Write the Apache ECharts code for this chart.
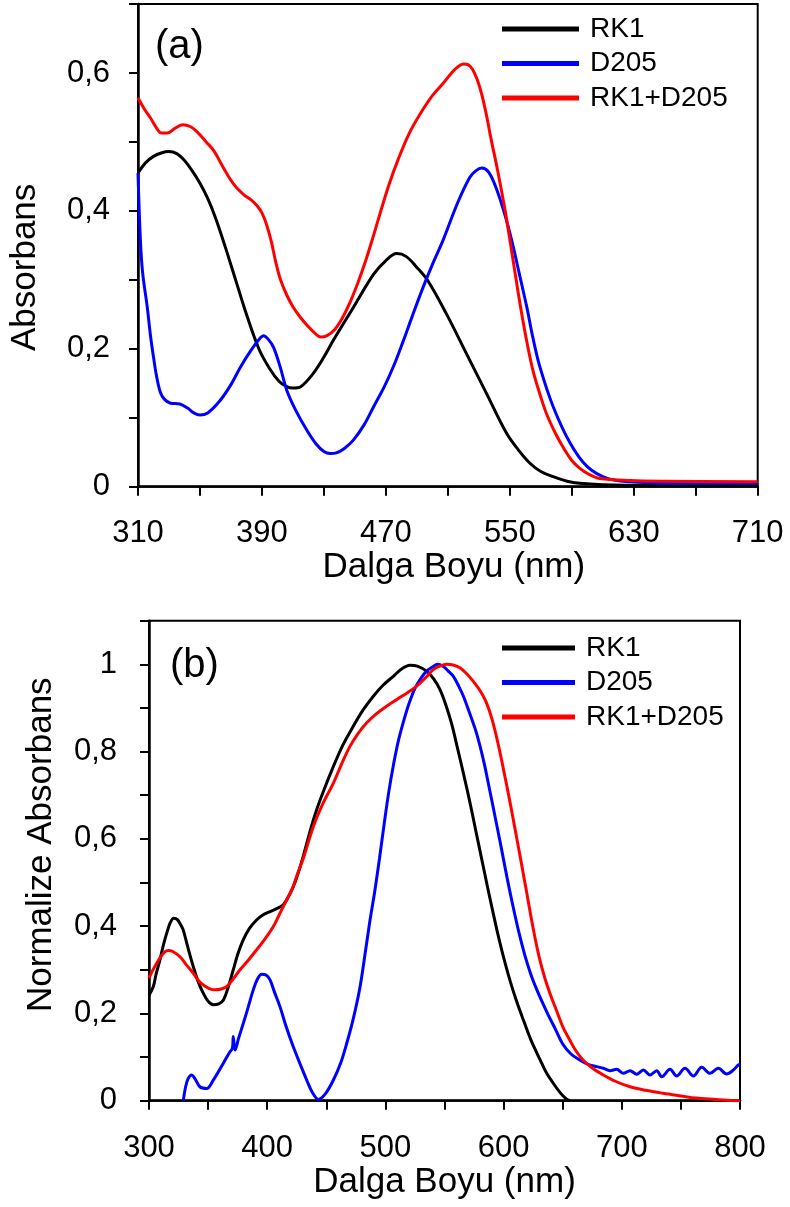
<!DOCTYPE html>
<html>
<head>
<meta charset="utf-8">
<script src="https://cdn.jsdelivr.net/npm/echarts@6/dist/echarts.min.js"></script>
<style>
html,body{margin:0;padding:0;background:#fff;}
#chart{width:790px;height:1207px;}
</style>
</head>
<body>
<div id="chart"></div>
<script>
// ---------- Data (wavelength nm, value) ----------
const seriesNames = ['RK1', 'D205', 'RK1+D205'];

// Panel (a): absorbance
const rk1A = [[310,0.455],[315,0.470],[320,0.479],[325,0.484],[330,0.486],[335,0.483],[340,0.473],[345,0.458],[350,0.440],[355,0.418],[360,0.390],[366,0.350],[373,0.300],[380,0.250],[388,0.200],[395,0.171],[401,0.153],[406,0.145],[410,0.143],[415,0.145],[423,0.164],[430,0.188],[436,0.212],[449,0.260],[462,0.308],[470,0.328],[477,0.338],[483,0.334],[490,0.318],[497,0.299],[509,0.251],[522,0.193],[535,0.135],[548,0.077],[556,0.052],[563,0.034],[570,0.022],[578,0.0145],[587,0.008],[595,0.005],[610,0.003],[640,0.002],[710,0.002]];
const d205A = [[310,0.455],[311.5,0.36],[313,0.31],[316,0.26],[318,0.22],[320,0.188],[322,0.16],[324.4,0.137],[327,0.127],[331,0.121],[337,0.120],[342,0.114],[346,0.107],[350,0.104],[355,0.107],[363,0.125],[370,0.148],[376,0.173],[383,0.198],[389,0.216],[391,0.219],[394,0.214],[397.5,0.202],[402,0.172],[406,0.14],[412,0.11],[419,0.082],[425,0.062],[430,0.051],[434,0.048],[438,0.049],[443,0.055],[449,0.0675],[456,0.09],[462,0.1156],[469,0.145],[475,0.175],[481,0.21],[487,0.247],[494,0.289],[500,0.322],[507,0.358],[516,0.41],[524,0.448],[528,0.458],[532,0.462],[536,0.457],[540,0.44],[544,0.415],[548,0.385],[552,0.35],[556,0.31],[561,0.26],[565,0.215],[569.5,0.173],[578,0.116],[589,0.063],[600,0.029],[613,0.012],[628,0.007],[650,0.005],[710,0.005]];
const mixA = [[310,0.564],[314,0.548],[318,0.535],[322,0.52],[325,0.513],[329,0.513],[334,0.52],[339,0.525],[344,0.522],[348,0.515],[354,0.50],[359,0.487],[365,0.463],[372,0.438],[378,0.424],[383,0.416],[387,0.407],[390,0.397],[393,0.38],[396,0.356],[399,0.325],[402,0.300],[406,0.278],[410,0.261],[415,0.245],[420,0.232],[424,0.223],[428,0.217],[432,0.219],[437,0.228],[442,0.245],[447,0.268],[452,0.296],[457,0.328],[462,0.364],[467,0.402],[472,0.438],[478,0.475],[485,0.512],[492,0.54],[500,0.567],[507,0.585],[512,0.599],[516,0.608],[520,0.613],[523,0.612],[526,0.605],[529,0.59],[532,0.568],[535,0.538],[538,0.503],[542,0.46],[547,0.40],[552,0.33],[556.6,0.265],[561,0.21],[565,0.168],[570,0.13],[574,0.104],[580,0.075],[585,0.055],[590,0.038],[595,0.027],[601,0.018],[608,0.012],[628,0.009],[650,0.008],[710,0.007]];

// Panel (b): normalized absorbance
const rk1B = [[300,0.242],[303.6,0.261],[306,0.29],[309.3,0.323],[312,0.355],[315,0.384],[318,0.408],[321,0.418],[324,0.415],[327,0.402],[329,0.391],[333,0.35],[337.5,0.307],[342,0.27],[346,0.246],[350,0.228],[354.4,0.22],[359,0.222],[363,0.231],[367,0.26],[371.3,0.30],[375,0.335],[379.8,0.369],[385,0.395],[391,0.414],[396,0.425],[402.4,0.4335],[408,0.44],[413.6,0.449],[418,0.468],[422,0.49],[426,0.52],[431,0.565],[436,0.615],[441,0.66],[447,0.705],[456,0.766],[464,0.815],[472.8,0.858],[481,0.895],[489.8,0.927],[498,0.952],[506.7,0.9725],[514,0.99],[520.8,0.998],[527,0.996],[535,0.984],[541,0.966],[546,0.943],[551,0.908],[556,0.864],[561,0.808],[566,0.75],[571,0.69],[576,0.625],[581,0.56],[586,0.495],[591,0.432],[596,0.372],[601,0.318],[606,0.27],[611,0.228],[617,0.183],[623,0.14],[631,0.093],[636,0.065],[642,0.04],[648,0.018],[653,0.004],[656,0]];
const d205B = [[329,0],[331,0.032],[333,0.05],[336,0.059],[339,0.05],[343,0.032],[348.8,0.028],[354.4,0.047],[362.9,0.086],[368,0.11],[370.5,0.12],[371.3,0.147],[372.8,0.116],[376,0.145],[379.8,0.1775],[384,0.215],[388.2,0.254],[392,0.28],[395.3,0.29],[399,0.288],[402.4,0.277],[406,0.25],[410.8,0.2156],[416,0.17],[422,0.124],[428,0.083],[433.4,0.0475],[438,0.02],[443.2,0.003],[449,0.015],[456,0.0475],[462,0.085],[467.3,0.1316],[473,0.19],[478.5,0.26],[483,0.34],[487,0.414],[491,0.48],[495,0.555],[499,0.635],[503,0.71],[507,0.772],[511,0.825],[515,0.866],[520,0.91],[525,0.945],[530,0.968],[535,0.985],[540.5,0.995],[544,1.0],[549,0.995],[553,0.985],[557.5,0.9725],[562,0.95],[566,0.927],[571,0.89],[577,0.843],[583,0.78],[588,0.715],[593,0.648],[598,0.58],[603,0.51],[608,0.445],[613,0.385],[618,0.333],[623,0.29],[628,0.255],[633,0.224],[638,0.195],[644,0.163],[650,0.13],[657,0.107],[664,0.094],[671,0.084],[678.8,0.078],[684.4,0.0743],[690,0.0689],[695.7,0.072],[701.3,0.0628],[707,0.0689],[712.6,0.0605],[718.2,0.0704],[723.9,0.059],[729.5,0.0689],[733.8,0.055],[740.8,0.072],[746.4,0.0567],[753.5,0.0743],[760.5,0.0567],[767.6,0.0766],[774.6,0.0628],[781.6,0.0743],[788.7,0.0613],[794.3,0.07],[798.6,0.082],[800,0.083]];
const mixB = [[300,0.281],[303,0.298],[306.5,0.315],[310,0.33],[313,0.34],[316.3,0.344],[320,0.342],[326.2,0.330],[332,0.31],[337.5,0.292],[342,0.275],[346,0.265],[351,0.257],[355.8,0.254],[361,0.256],[365.7,0.2615],[371,0.278],[377,0.30],[384,0.322],[391,0.3456],[398,0.37],[405.2,0.399],[410,0.425],[413.6,0.445],[418,0.468],[422,0.491],[425,0.515],[430.5,0.555],[439,0.628],[447,0.68],[456,0.728],[463,0.772],[470,0.812],[477,0.842],[484.2,0.866],[492,0.886],[501,0.904],[510,0.92],[518,0.934],[524,0.945],[529.3,0.957],[535,0.972],[540.5,0.988],[546,0.996],[552,1.0],[558,0.998],[563,0.992],[569,0.978],[574.4,0.961],[580,0.94],[585,0.915],[590,0.876],[595,0.822],[600,0.758],[605,0.69],[610,0.618],[615,0.545],[620,0.47],[625,0.395],[630,0.33],[635,0.28],[640,0.24],[645,0.205],[650,0.17],[656,0.139],[661,0.115],[667,0.094],[675,0.075],[684.4,0.059],[695,0.044],[707,0.032],[720,0.024],[735,0.017],[750,0.011],[763,0.006],[780,0.003],[797,0],[800,0]];

const colors = ['#000000', '#0000ff', '#ff0000'];

// ---------- Chart ----------
const FONT = 'Liberation Sans, Arial, sans-serif';
const chart = echarts.init(document.getElementById('chart'), null, {renderer: 'canvas'});

function yFmt(v) {
  const k = Math.round(v * 10);
  if (k % 2 !== 0) return '';
  if (k === 0) return '0';
  if (k === 10) return '1';
  return '0,' + k;
}
function axisCommon() {
  return {
    axisLine: {show: true, onZero: false, lineStyle: {color: '#000', width: 2.5}},
    axisTick: {show: true, inside: false, length: 9, lineStyle: {color: '#000', width: 2}},
    splitLine: {show: false},
    axisLabel: {color: '#000', fontSize: 31, fontFamily: FONT},
    nameTextStyle: {color: '#000', fontSize: 35, fontFamily: FONT}
  };
}

const xA = Object.assign(axisCommon(), {
  type: 'value', gridIndex: 0, min: 310, max: 710, interval: 40,
  name: 'Dalga Boyu (nm)', nameLocation: 'middle', nameGap: 57
});
xA.axisLabel.margin = 31;
xA.axisLabel.formatter = v => (Math.round(v - 310) % 80 === 0 ? String(v) : '');
xA.nameTextStyle.padding = [0, 0, 0, 12];

const xB = Object.assign(axisCommon(), {
  type: 'value', gridIndex: 1, min: 300, max: 800, interval: 50,
  name: 'Dalga Boyu (nm)', nameLocation: 'middle', nameGap: 60
});
xB.axisLabel.margin = 32;
xB.axisLabel.formatter = v => (Math.round(v) % 100 === 0 ? String(v) : '');

const yA = Object.assign(axisCommon(), {
  type: 'value', gridIndex: 0, min: 0, max: 0.7, interval: 0.1,
  name: 'Absorbans', nameLocation: 'middle', nameGap: 95, nameRotate: 90
});
yA.axisLabel.margin = 28;
yA.axisLabel.formatter = yFmt;
yA.nameTextStyle.padding = [0, 44, 0, 0];

const yB = Object.assign(axisCommon(), {
  type: 'value', gridIndex: 1, min: 0, max: 1.1, interval: 0.1,
  name: 'Normalize Absorbans', nameLocation: 'middle', nameGap: 90, nameRotate: 90
});
yB.axisLabel.margin = 32;
yB.axisLabel.formatter = yFmt;
yB.nameTextStyle.padding = [0, 0, 0, 32];

function lineSeries(name, data, idx, color) {
  return {
    type: 'line', name: name, data: data,
    xAxisIndex: idx, yAxisIndex: idx,
    showSymbol: false, symbol: 'none', smooth: 0.35,
    lineStyle: {color: color, width: 3},
    itemStyle: {color: color},
    emphasis: {disabled: true}
  };
}

function legendAt(top, w) {
  return {
    orient: 'vertical', left: 502, top: top, padding: 0,
    icon: 'rect', itemWidth: w, itemHeight: 5, itemGap: 6.5,
    textStyle: {color: '#000', fontSize: 28, lineHeight: 28, fontFamily: FONT, padding: [0, 0, 0, 6]},
    data: seriesNames, selectedMode: false
  };
}

const option = {
  animation: false,
  backgroundColor: '#fff',
  title: [
    {text: '(a)', left: 155, top: 27, padding: 0, textStyle: {color: '#000', fontSize: 40, fontWeight: 'normal', fontFamily: FONT}},
    {text: '(b)', left: 170, top: 646, padding: 0, textStyle: {color: '#000', fontSize: 40, fontWeight: 'normal', fontFamily: FONT}}
  ],
  legend: [legendAt(15, 77), legendAt(634, 73)],
  grid: [
    {left: 137.7, top: 4, width: 620, height: 482.7, show: true, borderColor: '#000', borderWidth: 2, backgroundColor: 'transparent'},
    {left: 149, top: 620.7, width: 591, height: 480, show: true, borderColor: '#000', borderWidth: 2, backgroundColor: 'transparent'}
  ],
  xAxis: [xA, xB],
  yAxis: [yA, yB],
  series: [
    lineSeries(seriesNames[0], rk1A, 0, colors[0]),
    lineSeries(seriesNames[1], d205A, 0, colors[1]),
    lineSeries(seriesNames[2], mixA, 0, colors[2]),
    lineSeries(seriesNames[0], rk1B, 1, colors[0]),
    lineSeries(seriesNames[1], d205B, 1, colors[1]),
    lineSeries(seriesNames[2], mixB, 1, colors[2])
  ]
};
chart.setOption(option);
</script>
</body>
</html>
